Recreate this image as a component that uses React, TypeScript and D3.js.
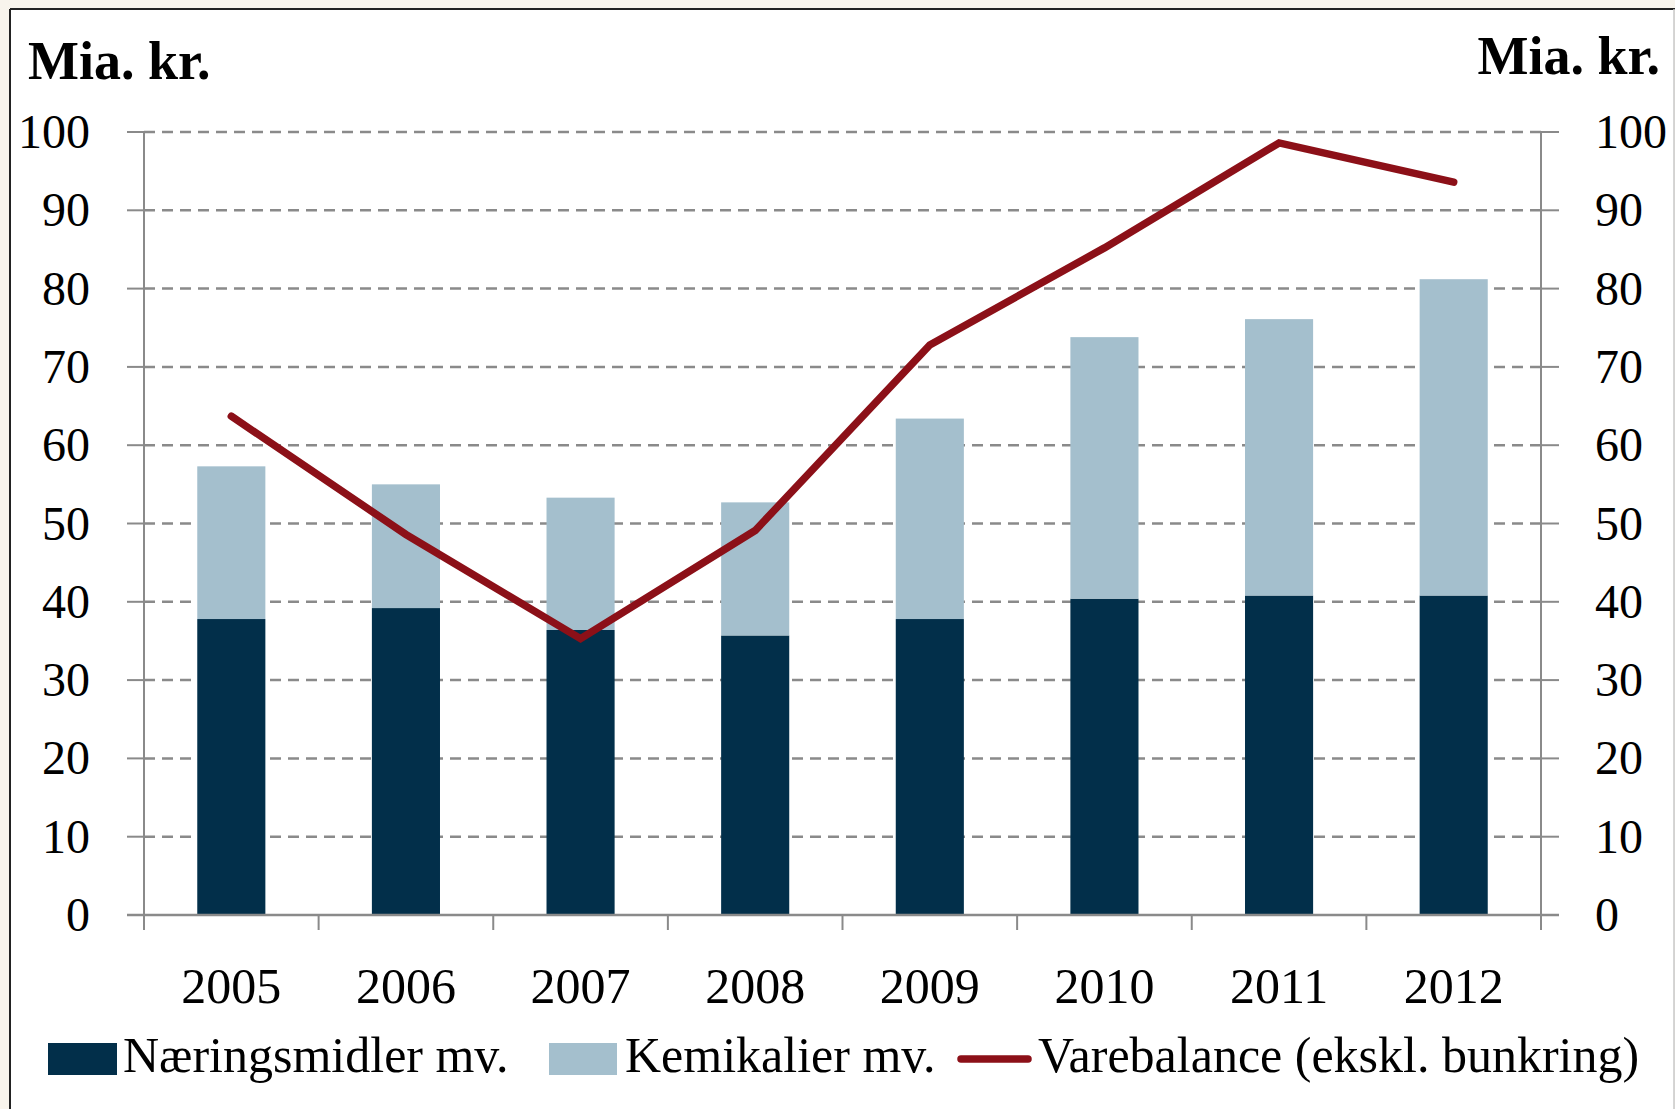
import React from 'react';
import * as d3 from 'd3';

const years = ['2005', '2006', '2007', '2008', '2009', '2010', '2011', '2012'];
const naering = [37.8, 39.2, 36.4, 35.7, 37.8, 40.4, 40.8, 40.8];
const kemikalier = [19.5, 15.8, 16.9, 17.0, 25.6, 33.4, 35.3, 40.4];
const varebalance = [63.7, 48.6, 35.3, 49.1, 72.8, 85.2, 98.6, 93.6];
const yTicks = [0, 10, 20, 30, 40, 50, 60, 70, 80, 90, 100];

const legendItems = ['Næringsmidler mv.', 'Kemikalier mv.', 'Varebalance (ekskl. bunkring)'];

const W = 1675;
const H = 1109;
const DARK = '#022f4a';
const LIGHT = '#a4bfcd';
const RED = '#8c1018';
const GRID = '#8a8a8a';
const FONT = '"Liberation Serif", "Times New Roman", serif';

export default function App() {
  const margin = { left: 144, right: W - 1541, top: 132, bottom: H - 915 };

  const x = d3.scaleBand<string>()
    .domain(years)
    .range([margin.left, W - margin.right])
    .paddingInner(0.61)
    .paddingOuter(0.305);

  const y = d3.scaleLinear().domain([0, 100]).range([H - margin.bottom, margin.top]);

  const step = x.step();
  const x0 = margin.left;
  const x1 = W - margin.right;
  const y0 = y(0);

  const stacked = years.map((yr, i) => ({ yr, a: naering[i], b: kemikalier[i] }));

  const line = d3.line<number>()
    .x((_, i) => (x(years[i]) as number) + x.bandwidth() / 2)
    .y(d => y(d));

  return (
    <svg width={W} height={H} style={{ position: 'absolute', left: 0, top: 0, display: 'block' }}
      fontFamily={FONT}>
      <rect x={0} y={0} width={W} height={H} fill="#f8f4ec" />
      <rect x={10} y={9} width={W - 11} height={H} fill="#ffffff" />
      <line x1={10} y1={9} x2={W} y2={9} stroke="#222" strokeWidth={2} />
      <line x1={10} y1={9} x2={10} y2={H} stroke="#222" strokeWidth={2} />
      <line x1={1674} y1={9} x2={1674} y2={H} stroke="#c8c8c8" strokeWidth={1.5} />

      {/* gridlines */}
      {yTicks.filter(t => t > 0).map(t => (
        <line key={t} x1={x0} x2={x1} y1={y(t)} y2={y(t)}
          stroke={GRID} strokeWidth={2.5} strokeDasharray="11,7" />
      ))}

      {/* bars */}
      {stacked.map(d => (
        <g key={d.yr}>
          <rect x={x(d.yr)} width={x.bandwidth()} y={y(d.a)} height={y0 - y(d.a)} fill={DARK} />
          <rect x={x(d.yr)} width={x.bandwidth()} y={y(d.a + d.b)} height={y(d.a) - y(d.a + d.b)}
            fill={LIGHT} />
        </g>
      ))}

      {/* axes */}
      <line x1={x0} x2={x0} y1={margin.top} y2={y0} stroke={GRID} strokeWidth={2} />
      <line x1={x1} x2={x1} y1={margin.top} y2={y0} stroke={GRID} strokeWidth={2} />
      <line x1={x0 - 17} x2={x1 + 18} y1={y0} y2={y0} stroke={GRID} strokeWidth={2.5} />
      {yTicks.map(t => (
        <g key={t}>
          <line x1={x0 - 17} x2={x0} y1={y(t)} y2={y(t)} stroke={GRID} strokeWidth={2} />
          <line x1={x1} x2={x1 + 18} y1={y(t)} y2={y(t)} stroke={GRID} strokeWidth={2} />
          <text x={90} y={y(t) + 16} textAnchor="end" fontSize={48} fill="#000">{t}</text>
          <text x={1595} y={y(t) + 16} textAnchor="start" fontSize={48} fill="#000">{t}</text>
        </g>
      ))}
      {d3.range(years.length + 1).map(i => (
        <line key={i} x1={x0 + i * step} x2={x0 + i * step} y1={y0} y2={y0 + 15}
          stroke={GRID} strokeWidth={2} />
      ))}
      {years.map(yr => (
        <text key={yr} x={(x(yr) as number) + x.bandwidth() / 2} y={1003} textAnchor="middle"
          fontSize={50} fill="#000">{yr}</text>
      ))}

      {/* line */}
      <path d={line(varebalance) || ''} fill="none" stroke={RED} strokeWidth={7.5}
        strokeLinejoin="miter" strokeLinecap="round" />

      {/* unit titles */}
      <text x={28} y={79} fontSize={54} fontWeight="bold" fill="#000">Mia. kr.</text>
      <text x={1660} y={74} fontSize={54} fontWeight="bold" textAnchor="end" fill="#000">Mia. kr.</text>

      {/* legend */}
      <rect x={48} y={1043} width={69} height={32} fill={DARK} />
      <text x={123} y={1072} fontSize={50} fill="#000">{legendItems[0]}</text>
      <rect x={549} y={1043} width={68} height={32} fill={LIGHT} />
      <text x={625} y={1072} fontSize={50} fill="#000">{legendItems[1]}</text>
      <line x1={961} x2={1028} y1={1059} y2={1059} stroke={RED} strokeWidth={7.5} strokeLinecap="round" />
      <text x={1038} y={1072} fontSize={50} fill="#000">{legendItems[2]}</text>
    </svg>
  );
}
